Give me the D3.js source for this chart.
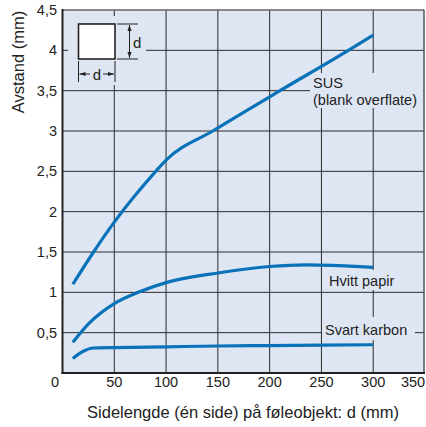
<!DOCTYPE html>
<html><head><meta charset="utf-8">
<script src="https://cdn.jsdelivr.net/npm/d3@7"></script>
<style>body{margin:0;background:#fff}svg{display:block;font-family:"Liberation Sans",Arial,sans-serif}</style>
</head><body><svg id="c" width="426" height="427"></svg>
<script>
const xTicks = [0,50,100,150,200,250,300,350];
const yTicks = [0,0.5,1,1.5,2,2.5,3,3.5,4,4.5];
const yTickLabels = ["","0,5","1","1,5","2","2,5","3","3,5","4","4,5"];
const seriesNames = ["SUS", "Hvitt papir", "Svart karbon"];
const susX = [10,30,50,70,90,100,145,210,276,300];
const susY = [1.1,1.5,1.87,2.2,2.5,2.64,3.0,3.5,4.0,4.19];
const papirX = [10,26,50,75,100,150,200,235,260,300];
const papirY = [0.38,0.62,0.86,1.01,1.12,1.24,1.32,1.34,1.335,1.31];
const karbonX = [10,20,30,50,100,150,200,250,300];
const karbonY = [0.18,0.27,0.31,0.315,0.325,0.335,0.34,0.345,0.35];
const xTitle = "Sidelengde (én side) på føleobjekt: d (mm)";
const yTitle = "Avstand (mm)";

const svg = d3.select("#c");
const L=62.5, R=424, T=10, B=373;
const x = d3.scaleLinear().domain([0,350]).range([L,R+1]);
const y = d3.scaleLinear().domain([0,4.5]).range([B,T]);
const bg="#dfe6f3", grid="#2b2b2b", blue="#0a72b9", ink="#222";

svg.append("rect").attr("x",L).attr("y",T).attr("width",R-L).attr("height",B-T).attr("fill",bg);
const g=svg.append("g");
xTicks.slice(1,-1).forEach(v=>g.append("line").attr("x1",x(v)).attr("x2",x(v)).attr("y1",T).attr("y2",B).attr("stroke",grid).attr("stroke-width",1));
yTicks.slice(1,-1).forEach(v=>g.append("line").attr("x1",L).attr("x2",R).attr("y1",y(v)).attr("y2",y(v)).attr("stroke",grid).attr("stroke-width",1));
svg.append("line").attr("x1",L).attr("x2",R).attr("y1",T).attr("y2",T).attr("stroke","#666").attr("stroke-width",1.5);
svg.append("line").attr("x1",R).attr("x2",R).attr("y1",T).attr("y2",B).attr("stroke","#555").attr("stroke-width",1.5);

const masks=[[68,16,78,69],[310,73,113,35],[326,270,92,20],[322,317,93,23]];
masks.forEach(m=>svg.append("rect").attr("x",m[0]).attr("y",m[1]).attr("width",m[2]).attr("height",m[3]).attr("fill",bg));

svg.append("line").attr("x1",L).attr("x2",L).attr("y1",T-1).attr("y2",B+1).attr("stroke",ink).attr("stroke-width",2);
svg.append("line").attr("x1",L-1).attr("x2",R+1).attr("y1",B).attr("y2",B).attr("stroke",ink).attr("stroke-width",2);

const tf="14.5px";
svg.selectAll(".yl").data(yTicks).enter().append("text").attr("x",57).attr("y",d=>y(d)+5)
 .attr("text-anchor","end").attr("font-size",tf).attr("fill",ink).text((d,i)=>yTickLabels[i]);
svg.selectAll(".xl").data(xTicks).enter().append("text")
 .attr("x",d=> d===0?55:(d===350?x(d)-12:x(d))).attr("y",387)
 .attr("text-anchor","middle").attr("font-size",tf).attr("fill",ink).text(d=>d);
svg.append("text").attr("x",243).attr("y",418).attr("text-anchor","middle").attr("font-size","16.5px").attr("fill",ink).text(xTitle);
svg.append("text").attr("transform","translate(24,62) rotate(-90)").attr("text-anchor","middle").attr("font-size","16.5px").attr("fill",ink).text(yTitle);

const line=d3.line().x(d=>x(d[0])).y(d=>y(d[1])).curve(d3.curveMonotoneX);
[[susX,susY],[papirX,papirY],[karbonX,karbonY]].forEach(([xs,ys])=>{
  svg.append("path").attr("d",line(xs.map((v,i)=>[v,ys[i]]))).attr("fill","none").attr("stroke",blue).attr("stroke-width",3.2).attr("stroke-linecap","butt");
});

const lab=(t,xx,yy)=>svg.append("text").attr("x",xx).attr("y",yy).attr("font-size","14.5px").attr("fill",ink).text(t);
lab(seriesNames[0],313,87.5);
lab("(blank overflate)",313,104.5);
lab(seriesNames[1],329,286);
lab(seriesNames[2],325,335);

svg.append("defs").html('<marker id="ar" viewBox="0 0 10 10" refX="10" refY="5" markerWidth="6" markerHeight="6" orient="auto"><path d="M0,1.5L10,5L0,8.5z" fill="#222"/></marker>');
const ins=svg.append("g").attr("stroke",ink).attr("fill","none").attr("stroke-width",1);
ins.append("rect").attr("x",78.5).attr("y",24).attr("width",36.5).attr("height",35).attr("fill","#fff").attr("stroke-width",1.6);
ins.append("line").attr("x1",117).attr("x2",138).attr("y1",24).attr("y2",24);
ins.append("line").attr("x1",117).attr("x2",138).attr("y1",59).attr("y2",59);
ins.append("line").attr("x1",129.5).attr("x2",129.5).attr("y1",42).attr("y2",25).attr("marker-end","url(#ar)");
ins.append("line").attr("x1",129.5).attr("x2",129.5).attr("y1",42).attr("y2",58).attr("marker-end","url(#ar)");
ins.append("line").attr("x1",78.5).attr("x2",78.5).attr("y1",61).attr("y2",82);
ins.append("line").attr("x1",115).attr("x2",115).attr("y1",61).attr("y2",82);
ins.append("line").attr("x1",90).attr("x2",79.5).attr("y1",74).attr("y2",74).attr("marker-end","url(#ar)");
ins.append("line").attr("x1",103).attr("x2",114).attr("y1",74).attr("y2",74).attr("marker-end","url(#ar)");
svg.append("text").attr("x",133).attr("y",48).attr("font-size","15px").attr("fill",ink).text("d");
svg.append("text").attr("x",96.8).attr("y",79.5).attr("text-anchor","middle").attr("font-size","15px").attr("fill",ink).text("d");
</script></body></html>
